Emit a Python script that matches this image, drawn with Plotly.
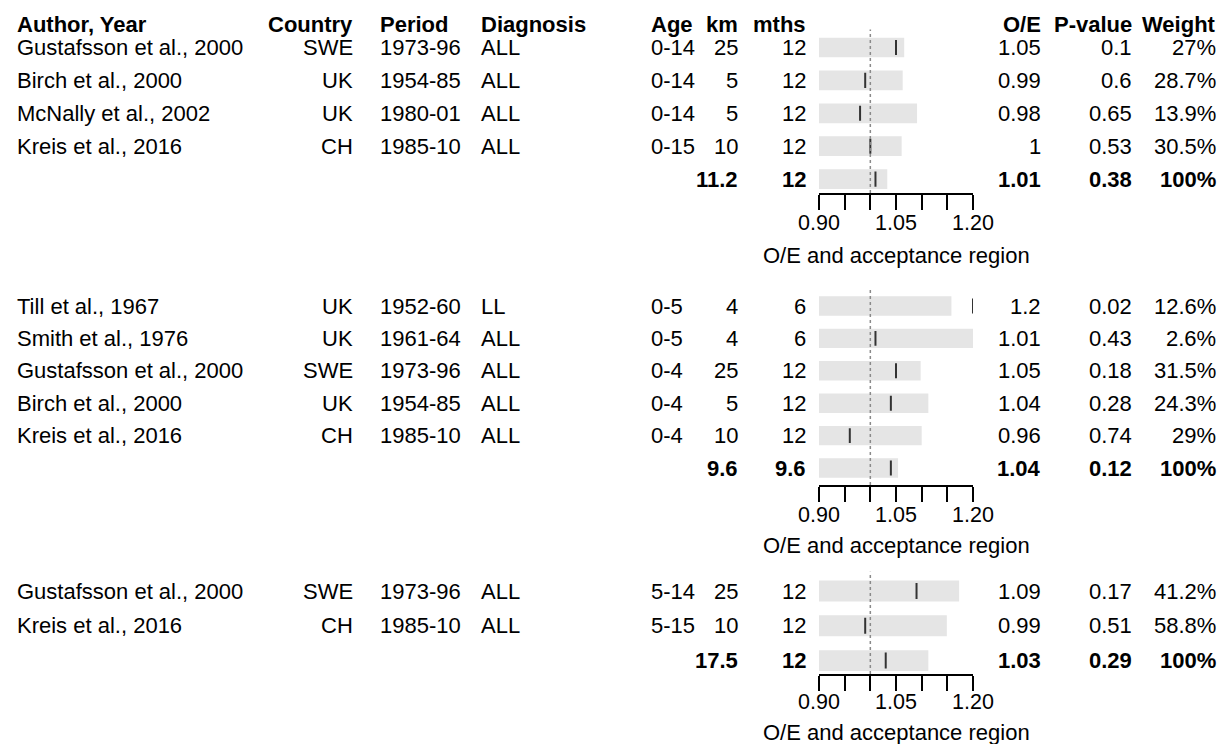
import plotly.graph_objects as go

W, H = 1222, 744
FONT = "Liberation Sans, Arial, Helvetica, sans-serif"
FS = 22

# ---- table columns ----
headers = ["Author, Year", "Country", "Period", "Diagnosis", "Age", "km", "mths", "O/E", "P-value", "Weight"]

# Section 1
authors_1 = ["Gustafsson et al., 2000", "Birch et al., 2000", "McNally et al., 2002", "Kreis et al., 2016"]
country_1 = ["SWE", "UK", "UK", "CH"]
period_1 = ["1973-96", "1954-85", "1980-01", "1985-10"]
diag_1 = ["ALL", "ALL", "ALL", "ALL"]
age_1 = ["0-14", "0-14", "0-14", "0-15"]
km_1 = ["25", "5", "5", "10", "11.2"]
mths_1 = ["12", "12", "12", "12", "12"]
oe_label_1 = ["1.05", "0.99", "0.98", "1", "1.01"]
pval_1 = ["0.1", "0.6", "0.65", "0.53", "0.38"]
weight_1 = ["27%", "28.7%", "13.9%", "30.5%", "100%"]
oe_1 = [1.05, 0.99, 0.98, 1.00, 1.01]
acc_lo_1 = [0.90, 0.90, 0.90, 0.90, 0.90]
acc_hi_1 = [1.066, 1.063, 1.091, 1.061, 1.033]

# Section 2
authors_2 = ["Till et al., 1967", "Smith et al., 1976", "Gustafsson et al., 2000", "Birch et al., 2000", "Kreis et al., 2016"]
country_2 = ["UK", "UK", "SWE", "UK", "CH"]
period_2 = ["1952-60", "1961-64", "1973-96", "1954-85", "1985-10"]
diag_2 = ["LL", "ALL", "ALL", "ALL", "ALL"]
age_2 = ["0-5", "0-5", "0-4", "0-4", "0-4"]
km_2 = ["4", "4", "25", "5", "10", "9.6"]
mths_2 = ["6", "6", "12", "12", "12", "9.6"]
oe_label_2 = ["1.2", "1.01", "1.05", "1.04", "0.96", "1.04"]
pval_2 = ["0.02", "0.43", "0.18", "0.28", "0.74", "0.12"]
weight_2 = ["12.6%", "2.6%", "31.5%", "24.3%", "29%", "100%"]
oe_2 = [1.20, 1.01, 1.05, 1.04, 0.96, 1.04]
acc_lo_2 = [0.90, 0.90, 0.90, 0.90, 0.90, 0.90]
acc_hi_2 = [1.158, 1.23, 1.098, 1.113, 1.100, 1.054]

# Section 3
authors_3 = ["Gustafsson et al., 2000", "Kreis et al., 2016"]
country_3 = ["SWE", "CH"]
period_3 = ["1973-96", "1985-10"]
diag_3 = ["ALL", "ALL"]
age_3 = ["5-14", "5-15"]
km_3 = ["25", "10", "17.5"]
mths_3 = ["12", "12", "12"]
oe_label_3 = ["1.09", "0.99", "1.03"]
pval_3 = ["0.17", "0.51", "0.29"]
weight_3 = ["41.2%", "58.8%", "100%"]
oe_3 = [1.09, 0.99, 1.03]
acc_lo_3 = [0.90, 0.90, 0.90]
acc_hi_3 = [1.173, 1.149, 1.113]

REF_VALUE = 1.0
tick_vals = [0.90, 0.95, 1.00, 1.05, 1.10, 1.15, 1.20]
tick_text = ["0.90", "", "", "1.05", "", "", "1.20"]
axis_title = "O/E and acceptance region"

sections = [
    dict(authors=authors_1, country=country_1, period=period_1, diag=diag_1, age=age_1,
         km=km_1, mths=mths_1, oel=oe_label_1, p=pval_1, w=weight_1,
         oe=oe_1, lo=acc_lo_1, hi=acc_hi_1,
         first=47.5, step=32.9, axis=193, labels=223, title=255),
    dict(authors=authors_2, country=country_2, period=period_2, diag=diag_2, age=age_2,
         km=km_2, mths=mths_2, oel=oe_label_2, p=pval_2, w=weight_2,
         oe=oe_2, lo=acc_lo_2, hi=acc_hi_2,
         first=306.0, step=32.4, axis=485, labels=515, title=545),
    dict(authors=authors_3, country=country_3, period=period_3, diag=diag_3, age=age_3,
         km=km_3, mths=mths_3, oel=oe_label_3, p=pval_3, w=weight_3,
         oe=oe_3, lo=acc_lo_3, hi=acc_hi_3,
         first=591.0, step=34.8, axis=674, labels=702, title=732),
]

# column x positions (pixels) and anchoring
col_x = dict(authors=(15, "left"), country=(355, "right"), period=(378, "left"),
             diag=(479, "left"), age=(649, "left"), km=(740, "right"),
             mths=(808, "right"), oel=(1043, "right"), p=(1134, "right"), w=(1218, "right"))
header_keys = ["authors", "country", "period", "diag", "age", "km", "mths", "oel", "p", "w"]

PLOT_L, PLOT_R = 819, 973

fig = go.Figure()
annotations = []
shapes = []
layout_axes = {}

for k, sec in enumerate(sections):
    sfx = "" if k == 0 else str(k + 1)
    xa, ya = "x" + sfx, "y" + sfx
    n = len(sec["oe"])
    ys = [-i for i in range(n)]

    # acceptance-region bars
    fig.add_trace(go.Bar(
        x=[h - l for h, l in zip(sec["hi"], sec["lo"])], base=sec["lo"], y=ys,
        orientation="h", width=0.6, marker=dict(color="#e5e5e5", line=dict(width=0)),
        xaxis=xa, yaxis=ya, hoverinfo="skip"))

    # observed/expected tick marks
    mx, my = [], []
    for i, v in enumerate(sec["oe"]):
        mx += [v, v, None]
        my += [-i - 0.23, -i + 0.23, None]
    fig.add_trace(go.Scatter(x=mx, y=my, mode="lines",
                             line=dict(color="#333333", width=2),
                             xaxis=xa, yaxis=ya, hoverinfo="skip"))

    # reference line at O/E = 1
    shapes.append(dict(type="line", xref=xa, yref=ya + " domain", x0=REF_VALUE, x1=REF_VALUE,
                       y0=0, y1=1, line=dict(color="#8a8a8a", width=1.5, dash="dot"), layer="above"))

    top_px = sec["first"] - 0.55 * sec["step"]
    layout_axes["xaxis" + sfx] = dict(
        domain=[PLOT_L / W, PLOT_R / W], range=[0.9, 1.2], anchor=ya,
        tickvals=tick_vals, ticks="outside", ticklen=15, showticklabels=False,
        tickwidth=1.6, tickcolor="black", showline=True, linecolor="black", linewidth=1.6,
        showgrid=False, zeroline=False, fixedrange=True, automargin=False)
    layout_axes["yaxis" + sfx] = dict(
        domain=[1 - sec["axis"] / H, 1 - top_px / H],
        range=[-(sec["axis"] - sec["first"]) / sec["step"], 0.55],
        visible=False, fixedrange=True, anchor=xa, automargin=False)

    # axis tick labels, placed on the axis' own scale
    for tv, tt in zip(tick_vals, tick_text):
        if tt:
            annotations.append(dict(
                x=tv, xref=xa, y=1 - sec["labels"] / H, yref="paper", text=tt,
                xanchor="center", yanchor="middle", showarrow=False,
                font=dict(family=FONT, size=21.5, color="black")))

    # table text
    n_studies = len(sec["authors"])
    for key in header_keys:
        px, anchor = col_x[key]
        vals = sec[key]
        for i, t in enumerate(vals):
            bold = i >= n_studies
            annotations.append(dict(
                x=px / W, xref="paper", y=-i, yref=ya, text=f"<b>{t}</b>" if bold else t,
                xanchor=anchor, yanchor="middle", showarrow=False,
                font=dict(family=FONT, size=FS, color="black")))

    annotations.append(dict(
        x=(PLOT_L + PLOT_R) / 2 / W, xref="paper", y=1 - sec["title"] / H, yref="paper",
        text=axis_title, xanchor="center", yanchor="middle", showarrow=False,
        font=dict(family=FONT, size=FS, color="black")))

# column headers
for key, label in zip(header_keys, headers):
    px, anchor = col_x[key]
    annotations.append(dict(
        x=px / W, xref="paper", y=1 - 25 / H, yref="paper", text=f"<b>{label}</b>",
        xanchor=anchor, yanchor="middle", showarrow=False,
        font=dict(family=FONT, size=FS, color="black")))

fig.update_layout(
    width=W, height=H, margin=dict(l=0, r=0, t=0, b=0, pad=0, autoexpand=False),
    paper_bgcolor="white", plot_bgcolor="white", showlegend=False,
    annotations=annotations, shapes=shapes, **layout_axes)

fig.write_html("out.html", config={"displayModeBar": False})
